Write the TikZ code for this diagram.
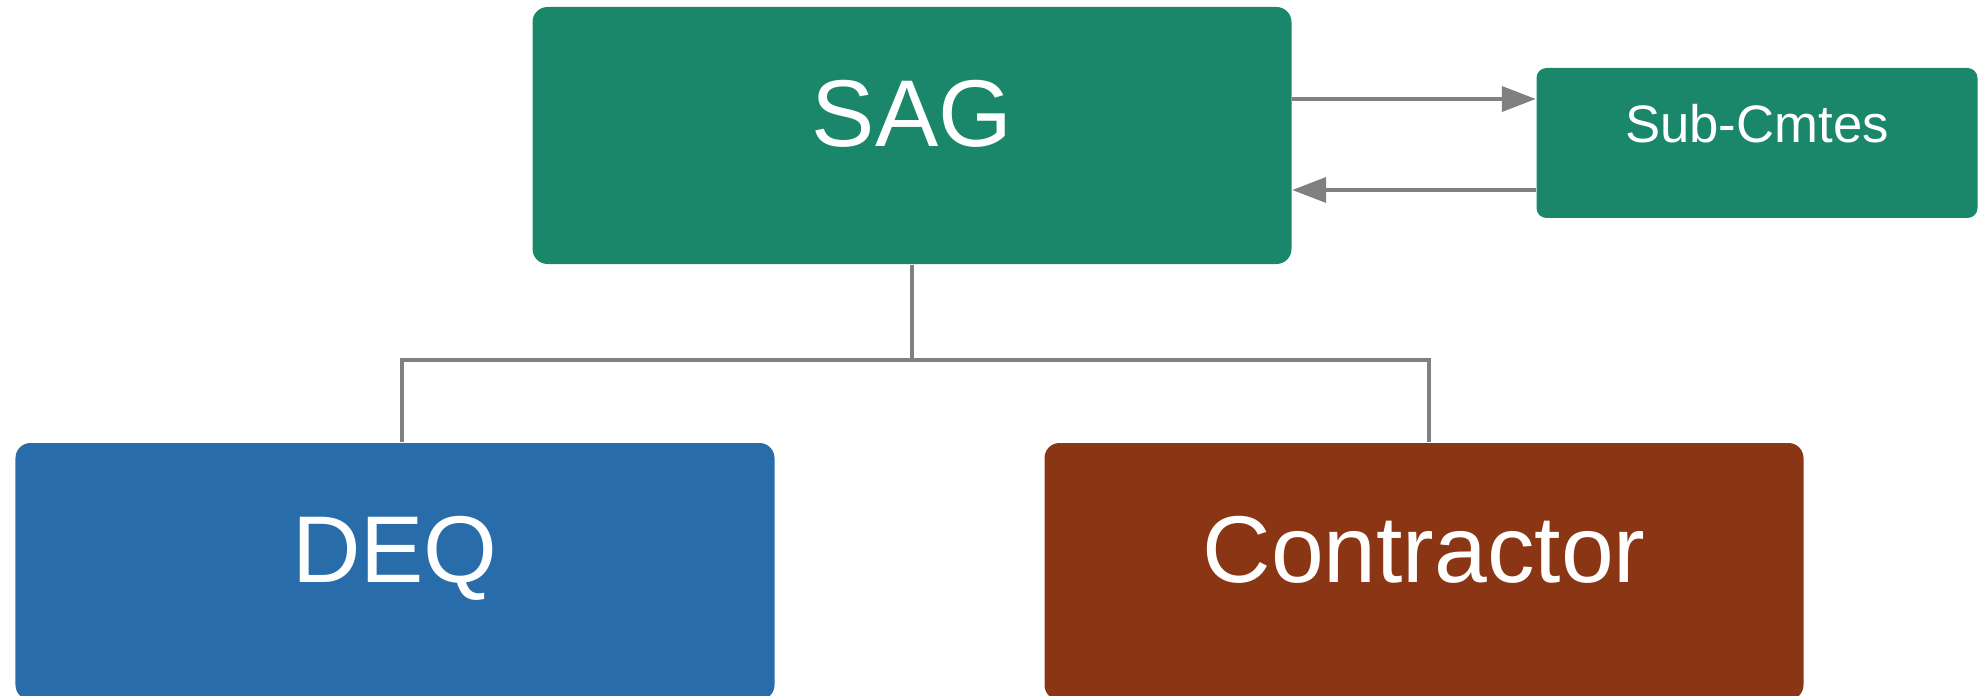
\documentclass[tikz,border=0pt]{standalone}
\usepackage{fontspec}
\setmainfont{Liberation Sans}
\usetikzlibrary{positioning, arrows.meta}

\definecolor{sagGreen}{RGB}{27,135,106}
\definecolor{deqBlue}{RGB}{40,109,170}
\definecolor{conBrown}{RGB}{138,54,20}
\definecolor{linkGray}{RGB}{128,128,128}

\tikzset{
    orgbox/.style={rectangle, rounded corners=1.5mm, text=white, inner sep=0pt,
        minimum width=7.59cm, minimum height=2.57cm,
        font=\fontsize{27}{32}\selectfont, text height=7mm, text depth=4.8mm},
    subbox/.style={rectangle, rounded corners=1mm, text=white, inner sep=0pt,
        minimum width=4.41cm, minimum height=1.5cm,
        font=\fontsize{15}{18}\selectfont, text height=4mm, text depth=4mm},
    link/.style={draw=linkGray, line width=1.1pt},
    flow/.style={link, -{Triangle[length=3.4mm, width=2.5mm]}}
}

\begin{document}
\begin{tikzpicture}
    \useasboundingbox (0,0) rectangle (19.79,6.95);
    % boxes
    \node[orgbox, fill=sagGreen] (sag) at (9.12,5.595) {SAG};
    \node[subbox, fill=sagGreen] (subc) at (17.57,5.52) {Sub-Cmtes};
    \node[orgbox, fill=deqBlue] (deq) at (3.95,1.235) {DEQ};
    \node[orgbox, fill=conBrown] (con) at (14.24,1.235) {Contractor};
    % arrows to and from the sub-committees
    \coordinate (out) at ([yshift=4.4mm]subc.west);
    \coordinate (back) at ([yshift=-4.7mm]subc.west);
    \draw[flow] (sag.east |- out) -- (out);
    \draw[flow] (back) -- (sag.east |- back);
    % tree below SAG
    \draw[link] (sag.south) -- ++(0,-0.95) -| ([xshift=0.7mm]deq.north);
    \draw[link] (sag.south) -- ++(0,-0.95) -| ([xshift=0.5mm]con.north);
\end{tikzpicture}
\end{document}
